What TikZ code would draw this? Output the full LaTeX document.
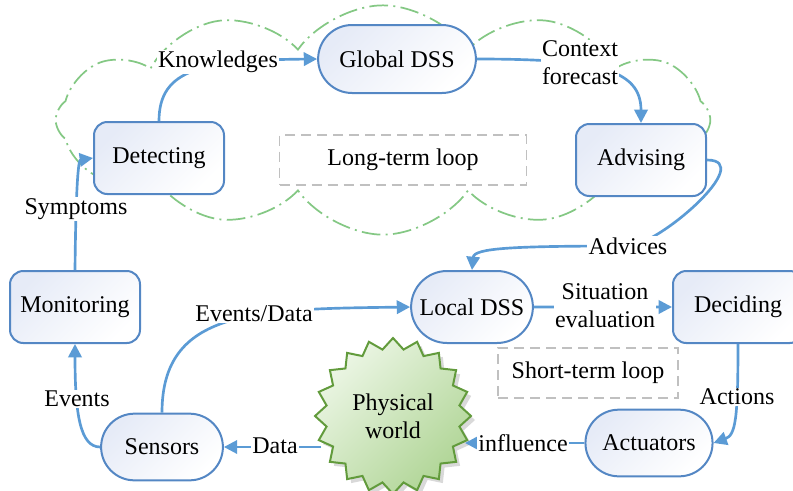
\documentclass[tikz,border=0pt]{standalone}
\usepackage{fontspec}
\setmainfont{Liberation Serif}
\usetikzlibrary{shapes.misc,shapes.geometric,shapes.symbols,arrows.meta,shadows}
\definecolor{linkblue}{RGB}{91,155,213}
\definecolor{boxblue}{RGB}{84,135,196}
\definecolor{boxshade}{RGB}{230,235,247}
\definecolor{cloudgreen}{RGB}{132,200,132}
\definecolor{loopgray}{RGB}{192,192,192}
\definecolor{starline}{RGB}{98,155,60}
\definecolor{starlight}{RGB}{236,246,229}
\definecolor{stardark}{RGB}{176,213,150}
\begin{document}
\begin{tikzpicture}[x=0.75pt,y=-0.75pt,
  font=\fontsize{18}{21}\selectfont,
  box/.style={draw=boxblue,line width=1.5pt,rounded corners=10pt,
    top color=boxshade,bottom color=white,shading angle=45,
    minimum width=97.5pt,minimum height=54pt},
  pill/.style={rounded rectangle,draw=boxblue,line width=1.5pt,
    top color=boxshade,bottom color=white,shading angle=45,
    minimum width=98pt,minimum height=50pt},
  loopbox/.style={draw=loopgray,line width=1.2pt,
    dash pattern=on 7.5pt off 4.5pt,minimum height=37.5pt},
  link/.style={draw=linkblue,line width=2pt,-{Triangle[length=10pt,width=10pt]}},
  lbl/.style={fill=white,inner sep=1pt}]
\useasboundingbox (0,0) rectangle (793,490);
%Wolke
  \node[cloud,cloud puffs=12,cloud puff arc=110,cloud ignores aspect,
    draw=cloudgreen,line width=1.3pt,
    dash pattern=on 14pt off 4pt on 1.5pt off 4pt,
    minimum width=491pt,minimum height=172pt] (cloud) at (383,120) {};
%Schleifen
  \node[loopbox,minimum width=185pt] (longloop) at (403,160)
    {Long-term loop};
  \node[loopbox,minimum width=135pt] (shortloop) at (588,373)
    {Short-term loop};
%Knoten
  \node[pill,minimum width=125pt,minimum height=51pt] (gdss) at (397,59) {Global DSS};
  \node[box] (detect) at (159,158) {Detecting};
  \node[box] (advis) at (641,160) {Advising};
  \node[box] (monit) at (75,307) {Monitoring};
  \node[pill,minimum height=54pt] (ldss) at (472,307) {Local DSS};
  \node[box] (decid) at (738,307) {Deciding};
  \node[pill] (sens) at (162,447) {Sensors};
  \node[pill,minimum width=102pt] (act) at (649,443) {Actuators};
  \node[star,star points=20,star point ratio=1.16,minimum size=117pt,inner sep=0pt,
    draw=starline,line width=1.5pt,top color=starlight,bottom color=stardark,
    shading angle=45,drop shadow={opacity=0.3,shadow xshift=3pt,shadow yshift=-3pt},
    align=center] (phys) at (393,416) {Physical\\world};
  \coordinate (advpt) at (628,246);
%Pfeile
  \draw[link] (detect.north) .. controls +(0,-52) and +(-115,1) .. (gdss.west);
  \draw[link] (gdss.east) .. controls +(120,0) and +(0,-54) .. (advis.north);
  \draw[link] (advis.east) .. controls +(50,0) and +(30,0) .. (advpt)
    .. controls +(-115,0) and +(2,-22) .. (ldss.north);
  \draw[link] (ldss) -- (decid);
  \draw[link] (decid.south) .. controls +(0,75) and +(22,-8) .. (act.east);
  \draw[link] (act.west) -- (act.west -| phys.-20);
  \draw[link] (sens.east -| phys.200) -- (sens.east);
  \draw[link] (sens.west) .. controls +(-20,0) and +(0,70) .. (monit.south);
  \draw[link] (sens.north) .. controls +(0,-103) and +(-156,2) .. (ldss.west);
  \draw[link] (monit.north) .. controls +(1,-96) and +(-14,2) .. (detect.west);
%Beschriftung
  \node[lbl] (knowl) at (218,62)
    {Knowledges};
  \node[lbl,align=left] (ctxt) at (580,63)
    {Context\\forecast};
  \node[lbl] (advic) at (advpt)
    {Advices};
  \node[lbl,align=center] (situ) at (605,306)
    {Situation\\evaluation};
  \node[lbl] (actn) at (737,397)
    {Actions};
  \node[lbl] (infl) at (523,443)
    {influence};
  \node[lbl] (datal) at (275,446)
    {Data};
  \node[lbl] (evts) at (77,399)
    {Events};
  \node[lbl] (evdat) at (254,314)
    {Events/Data};
  \node[lbl] (symp) at (76,209)
    {Symptoms};
\end{tikzpicture}
\end{document}
